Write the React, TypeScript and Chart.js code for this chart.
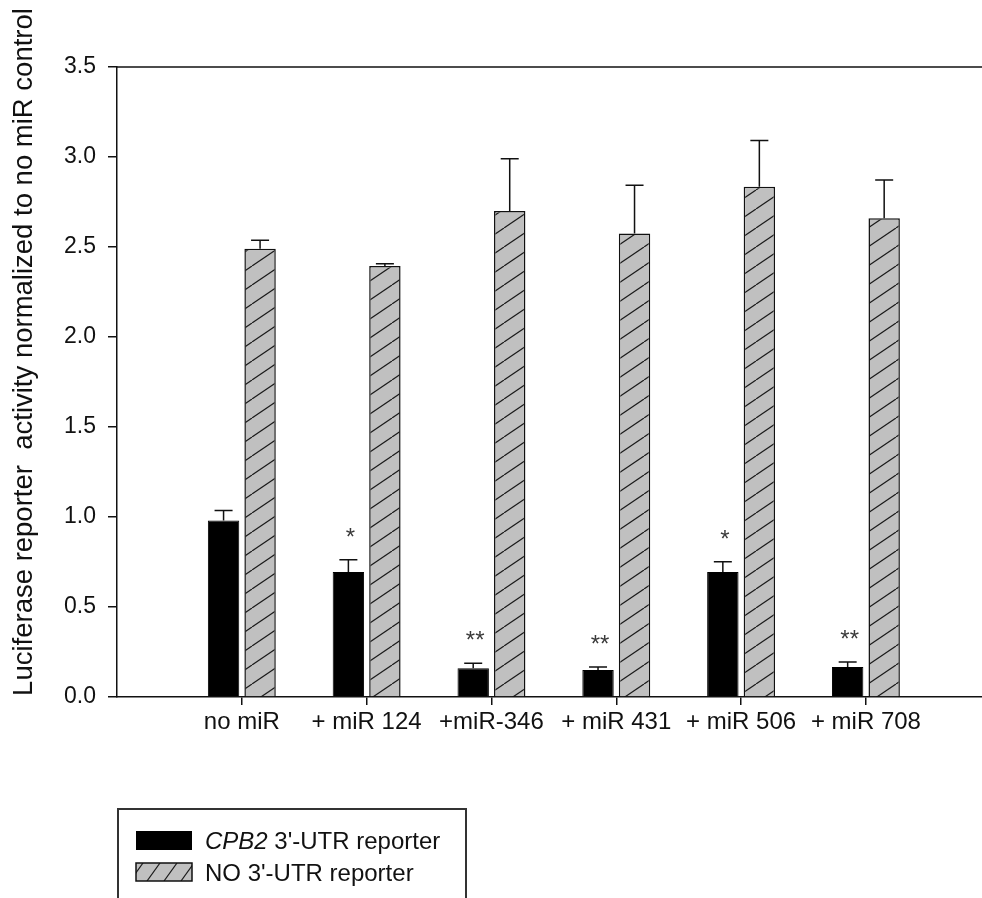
import React, { useEffect, useRef } from "react";
import { Chart, registerables } from "chart.js";

Chart.register(...registerables);

// Groups along the x axis
const categories = ["no miR", "+ miR 124", "+miR-346", "+ miR 431", "+ miR 506", "+ miR 708"];

// CPB2 3'-UTR reporter (black bars): mean and upper error
const cpb2Values = [0.98, 0.695, 0.16, 0.15, 0.695, 0.167];
const cpb2Errors = [0.056, 0.067, 0.028, 0.017, 0.056, 0.028];

// NO 3'-UTR reporter (hatched bars): mean and upper error
const noUtrValues = [2.49, 2.395, 2.7, 2.575, 2.835, 2.66];
const noUtrErrors = [0.048, 0.012, 0.29, 0.268, 0.256, 0.212];

// Significance marks above the CPB2 bars
const significance = ["", "*", "**", "**", "*", "**"];

// Y axis range
const yMin = 0;
const yMax = 3.5;
const yStep = 0.5;

const seriesNames = ["CPB2", " 3'-UTR reporter", "NO 3'-UTR reporter"];
const yTitle = "Luciferase reporter  activity normalized to no miR control";

const FONT = "'Liberation Sans', Arial, Helvetica, sans-serif";
const INK = "#111";

function makeHatch(): CanvasPattern | string {
  const w = 28;
  const h = 19;
  const c = document.createElement("canvas");
  c.width = w;
  c.height = h;
  const g = c.getContext("2d");
  if (!g) return "#c0c0c0";
  g.fillStyle = "#c0c0c0";
  g.fillRect(0, 0, w, h);
  g.strokeStyle = "#1a1a1a";
  g.lineWidth = 1.2;
  for (const dx of [-w, 0, w]) {
    g.beginPath();
    g.moveTo(dx, h);
    g.lineTo(dx + w, 0);
    g.stroke();
  }
  return g.createPattern(c, "repeat") || "#c0c0c0";
}

// Error bars, significance stars, frame line, y title and boxed legend
const decorations = {
  id: "decorations",
  afterDatasetsDraw(chart: any) {
    const ctx: CanvasRenderingContext2D = chart.ctx;
    const y = chart.scales.y;
    const errs = [cpb2Errors, noUtrErrors];
    const vals = [cpb2Values, noUtrValues];
    ctx.save();
    ctx.strokeStyle = INK;
    ctx.lineWidth = 1.5;
    for (let d = 0; d < 2; d++) {
      const meta = chart.getDatasetMeta(d);
      meta.data.forEach((bar: any, i: number) => {
        const top = y.getPixelForValue(vals[d][i] + errs[d][i]);
        const base = y.getPixelForValue(vals[d][i]);
        ctx.beginPath();
        ctx.moveTo(bar.x, base);
        ctx.lineTo(bar.x, top);
        ctx.moveTo(bar.x - 9, top);
        ctx.lineTo(bar.x + 9, top);
        ctx.stroke();
      });
    }
    // stars over the CPB2 bars
    const meta0 = chart.getDatasetMeta(0);
    ctx.fillStyle = "#3a3a3a";
    ctx.font = `24px ${FONT}`;
    ctx.textAlign = "center";
    ctx.textBaseline = "alphabetic";
    meta0.data.forEach((bar: any, i: number) => {
      if (!significance[i]) return;
      const top = y.getPixelForValue(cpb2Values[i] + cpb2Errors[i]);
      ctx.fillText(significance[i], bar.x + 2, top - 15);
    });
    ctx.restore();
  },
  afterDraw(chart: any) {
    const ctx: CanvasRenderingContext2D = chart.ctx;
    const area = chart.chartArea;
    ctx.save();
    // top frame line
    ctx.strokeStyle = INK;
    ctx.lineWidth = 1.5;
    ctx.beginPath();
    ctx.moveTo(area.left, area.top);
    ctx.lineTo(chart.width, area.top);
    ctx.stroke();

    // rotated y title
    ctx.save();
    ctx.translate(24, 352);
    ctx.rotate(-Math.PI / 2);
    ctx.fillStyle = INK;
    ctx.font = `27.5px ${FONT}`;
    ctx.textAlign = "center";
    ctx.textBaseline = "middle";
    ctx.fillText(yTitle, 0, 0);
    ctx.restore();

    // legend box
    const bx = 118;
    const by = 809;
    const bw = 348;
    ctx.strokeStyle = "#333";
    ctx.lineWidth = 2;
    ctx.beginPath();
    ctx.moveTo(bx, chart.height + 4);
    ctx.lineTo(bx, by);
    ctx.lineTo(bx + bw, by);
    ctx.lineTo(bx + bw, chart.height + 4);
    ctx.stroke();

    // swatch 1: solid black
    ctx.fillStyle = "#000";
    ctx.fillRect(136, 831, 56, 19);

    // swatch 2: grey with diagonal hatch
    ctx.fillStyle = "#c0c0c0";
    ctx.fillRect(136, 863, 56, 18);
    ctx.save();
    ctx.beginPath();
    ctx.rect(136, 863, 56, 18);
    ctx.clip();
    ctx.strokeStyle = "#1a1a1a";
    ctx.lineWidth = 1.2;
    for (let x = 130; x < 200; x += 17) {
      ctx.beginPath();
      ctx.moveTo(x, 881);
      ctx.lineTo(x + 13, 863);
      ctx.stroke();
    }
    ctx.restore();
    ctx.strokeStyle = "#111";
    ctx.lineWidth = 1.5;
    ctx.strokeRect(136, 863, 56, 18);

    ctx.fillStyle = INK;
    ctx.textAlign = "left";
    ctx.textBaseline = "alphabetic";
    ctx.font = `italic 24px ${FONT}`;
    ctx.fillText(seriesNames[0], 205, 849);
    const w0 = ctx.measureText(seriesNames[0]).width;
    ctx.font = `24px ${FONT}`;
    ctx.fillText(seriesNames[1], 205 + w0, 849);
    ctx.fillText(seriesNames[2], 205, 881);
    ctx.restore();
  },
};

export default function App() {
  const ref = useRef<HTMLCanvasElement | null>(null);

  useEffect(() => {
    const canvas = ref.current;
    if (!canvas) return;
    const hatch = makeHatch();
    const chart = new Chart(canvas, {
      type: "bar",
      data: {
        datasets: [
          {
            label: "CPB2 3'-UTR reporter",
            data: cpb2Values.map((v, i) => ({ x: i, y: v })),
            backgroundColor: "#000",
            borderColor: "#000",
            borderWidth: 1,
          },
          {
            label: "NO 3'-UTR reporter",
            data: noUtrValues.map((v, i) => ({ x: i, y: v })),
            backgroundColor: hatch as any,
            borderColor: "#111",
            borderWidth: 1.5,
          },
        ],
      },
      options: {
        animation: false,
        responsive: false,
        devicePixelRatio: 1,
        layout: { padding: { left: 0, top: 67, right: 0, bottom: 0 } },
        datasets: { bar: { categoryPercentage: 0.585, barPercentage: 0.86 } } as any,
        plugins: { legend: { display: false }, tooltip: { enabled: false } },
        scales: {
          x: {
            type: "linear",
            offset: false,
            min: -1,
            max: 5.93,
            afterBuildTicks: (s: any) => {
              s.ticks = categories.map((_, i) => ({ value: i }));
            },
            afterFit: (s: any) => {
              s.height = 201;
            },
            ticks: {
              autoSkip: false,
              maxRotation: 0,
              padding: 3,
              color: INK,
              font: { family: FONT, size: 24 },
              callback: (v: any) => categories[v as number] ?? "",
            },
            grid: {
              offset: false,
              drawOnChartArea: false,
              drawTicks: true,
              tickLength: 8,
              color: INK,
              lineWidth: 1.5,
            },
            border: { display: true, color: INK, width: 1.5 },
          },
          y: {
            min: yMin,
            max: yMax,
            afterFit: (s: any) => {
              s.width = 117;
            },
            ticks: {
              stepSize: yStep,
              padding: 12,
              color: INK,
              font: { family: FONT, size: 23 },
              callback: (v: any) => Number(v).toFixed(1),
            },
            grid: {
              drawOnChartArea: false,
              drawTicks: true,
              tickLength: 9,
              color: INK,
              lineWidth: 1.5,
            },
            border: { display: true, color: INK, width: 1.5 },
          },
        },
      },
      plugins: [decorations],
    });
    return () => chart.destroy();
  }, []);

  return (
    <div style={{ position: "absolute", left: 0, top: 0, width: 982, height: 898, background: "#fff" }}>
      <canvas ref={ref} width={982} height={898} style={{ display: "block" }} />
    </div>
  );
}
